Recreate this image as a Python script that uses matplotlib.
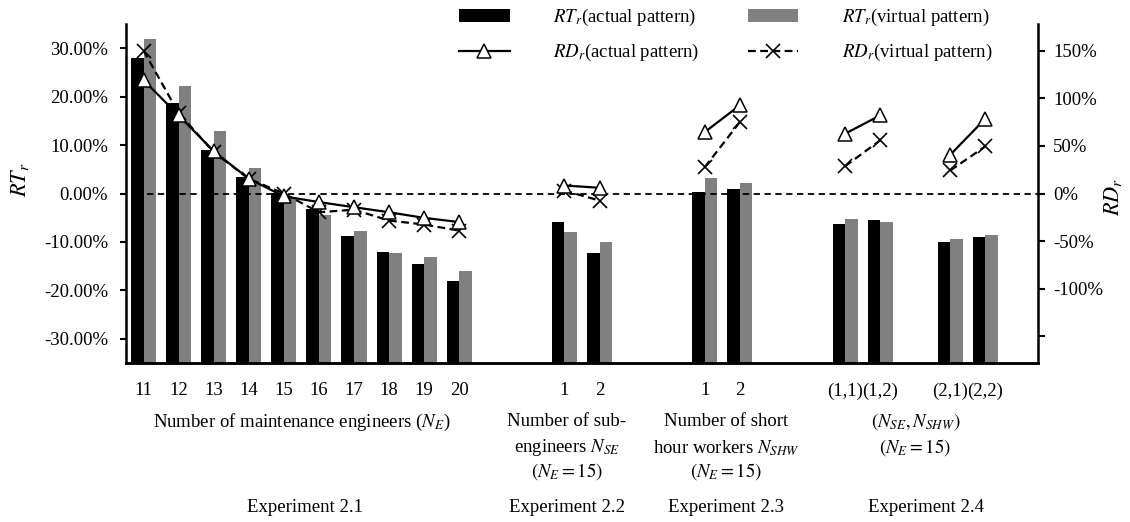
import numpy as np
import matplotlib
matplotlib.use("Agg")
from matplotlib import pyplot as plt
from matplotlib.transforms import blended_transform_factory

plt.rcParams['font.family'] = ['Liberation Serif', 'DejaVu Serif']
plt.rcParams['mathtext.fontset'] = 'stix'

# categories, one list per connected segment
seg_labels = [
    ['11', '12', '13', '14', '15', '16', '17', '18', '19', '20'],
    ['1', '2'],
    ['1', '2'],
    ['(1,1)', '(1,2)'],
    ['(2,1)', '(2,2)'],
]

# RT_r in %, left axis
rt_actual = [
    [27.9, 18.6, 9.0, 3.4, 0.0, -3.2, -8.8, -12.1, -14.5, -18.0],
    [-5.9, -12.3],
    [0.3, 0.9],
    [-6.3, -5.5],
    [-10.0, -8.9],
]
rt_virtual = [
    [31.8, 22.1, 12.9, 5.3, -0.7, -4.4, -7.7, -12.3, -13.2, -15.9],
    [-7.9, -10.0],
    [3.3, 2.1],
    [-5.2, -5.9],
    [-9.4, -8.6],
]

# RD_r in %, right axis
rd_actual = [
    [119, 82, 44.5, 15.5, -3, -9, -14.4, -19.7, -25.6, -30],
    [8.4, 6],
    [64.5, 92.6],
    [62.8, 82],
    [40.7, 78.6],
]
rd_virtual = [
    [150, 84.5, 43.5, 15.5, 0, -19.7, -17, -28.4, -32.6, -39],
    [3, -7.4],
    [27.7, 75],
    [28.7, 55.8],
    [24.2, 49.5],
]

# empty slots before each segment
seg_gaps = [0, 2, 2, 2, 1]

positions = []
cursor = 0
for labels, gap in zip(seg_labels, seg_gaps):
    cursor += gap
    positions.append(cursor + np.arange(len(labels)))
    cursor += len(labels)

W, H = 1130, 522
fs = 13.5
fig = plt.figure(figsize=(W / 100, H / 100), dpi=100)
ax = fig.add_axes([126 / W, 1 - 363 / H, (1038 - 126) / W, (363 - 24) / H])
ax2 = ax.twinx()

ylo, yhi = -35, 35
rlo, rhi = -178, 178
w = 0.357

for pos, a, v in zip(positions, rt_actual, rt_virtual):
    bar_a = ax.bar(pos - w / 2, np.array(a) - ylo, bottom=ylo, width=w,
                   color='black', zorder=2)
    bar_v = ax.bar(pos + w / 2, np.array(v) - ylo, bottom=ylo, width=w,
                   color='#808080', zorder=2)

for pos, a, v in zip(positions, rd_actual, rd_virtual):
    line_a, = ax2.plot(pos, a, color='black', lw=1.6, marker='^', ms=10,
                       mfc='white', mec='black', mew=1.1, zorder=4)
    line_v, = ax2.plot(pos, v, color='black', lw=1.6, ls=(0, (3.5, 2)),
                       marker='x', ms=10, mew=1.2, zorder=3)

ax2.axhline(0, color='black', lw=1.3, ls=(0, (3.5, 2.5)),
            xmin=0.6 / 26, zorder=1)

all_pos = np.concatenate(positions)
all_labels = sum(seg_labels, [])
ax.set_xlim(-0.5, 25.5)
ax.set_xticks(all_pos)
ax.set_xticklabels(all_labels, fontsize=fs)
ax.tick_params(axis='x', length=0, pad=14)

ax.set_ylim(ylo, yhi)
lt = np.arange(-30, 31, 10)
ax.set_yticks(lt)
ax.set_yticklabels(['%.2f%%' % t for t in lt], fontsize=fs)
ax.tick_params(axis='y', direction='out', length=4, width=1.5, pad=9)

ax2.set_ylim(rlo, rhi)
rt = np.arange(-150, 151, 50)
ax2.set_yticks(rt)
ax2.set_yticklabels(['' if t == -150 else '%d%%' % t for t in rt], fontsize=fs)
ax2.tick_params(axis='y', direction='out', length=5, width=1.5, pad=6)

for a in (ax, ax2):
    a.spines['top'].set_visible(False)
    for s in ('left', 'right', 'bottom'):
        a.spines[s].set_linewidth(1.8)
ax.spines['right'].set_visible(False)
ax2.spines['left'].set_visible(False)

fig.text(20 / W, 1 - 180 / H, r'$RT_r$', rotation=90, fontsize=16,
         ha='center', va='center')
fig.text(1113 / W, 1 - 197 / H, r'$RD_r$', rotation=90, fontsize=16,
         ha='center', va='center')

# group captions below the axis
tr = blended_transform_factory(ax.transData, fig.transFigure)
captions = [
    (4.5, ['Number of maintenance engineers ($N_E$)']),
    (12.06, ['Number of sub-', 'engineers $N_{SE}$', '$(N_E = 15)$']),
    (16.6, ['Number of short', 'hour workers $N_{SHW}$', '$(N_E = 15)$']),
    (22.0, ['$(N_{SE}, N_{SHW})$', '$(N_E = 15)$']),
]
row_y = [422, 448, 472]
for x, lines in captions:
    for line, y in zip(lines, row_y):
        ax.text(x, 1 - y / H, line, transform=tr, ha='center', va='center',
                fontsize=fs)

experiments = [(4.6, 'Experiment 2.1'), (12.06, 'Experiment 2.2'),
               (16.6, 'Experiment 2.3'), (22.3, 'Experiment 2.4')]
for x, name in experiments:
    ax.text(x, 1 - 508 / H, name, transform=tr, ha='center', va='center',
            fontsize=fs)

handles = [bar_a, line_a, bar_v, line_v]
names = [r'$RT_r$(actual pattern)', r'$RD_r$(actual pattern)',
         r'$RT_r$(virtual pattern)', r'$RD_r$(virtual pattern)']
fig.legend(handles, names, ncol=2, loc='upper left',
           bbox_to_anchor=(459 / W, 1 - 7 / H), frameon=False, fontsize=fs,
           handlelength=2.7, handletextpad=2.3, columnspacing=2.6,
           labelspacing=0.75, borderpad=0, borderaxespad=0)

fig.savefig('out.png', dpi=100)
